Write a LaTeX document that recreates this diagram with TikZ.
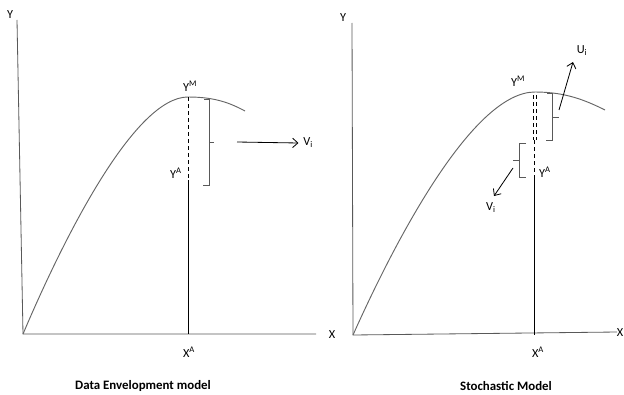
\documentclass[tikz,border=0pt]{standalone}
\usepackage{fontspec}
\setmainfont{Carlito}
\usetikzlibrary{positioning,arrows.meta}

\tikzset{
	axis/.style={draw=black!65, line width=0.7pt},
	curve/.style={draw=black!60, line width=0.8pt},
	drop/.style={draw=black, line width=0.6pt},
	brace/.style={draw=black!65, line width=0.7pt},
	pointer/.style={-{Straight Barb[length=4.5pt,width=8pt]}, line width=0.7pt},
	lab/.style={font=\fontsize{10.5}{12}\selectfont, inner sep=1pt},
	capt/.style={font=\fontsize{11}{13}\selectfont\bfseries}
}

\begin{document}
\begin{tikzpicture}[x=0.03cm, y=-0.03cm]
	\useasboundingbox (0,0) rectangle (624,394);

	% left panel: data envelopment
	\coordinate (lo)  at (23,334);
	\coordinate (ly)  at (17,20);
	\coordinate (lx)  at (316,334);
	\coordinate (lm)  at (188,97);
	\coordinate (la)  at (188,180);
	\coordinate (lf)  at (188,334);
	\draw[axis] (ly) -- (lo) -- (lx);
	\draw[curve] (lo) .. controls (65,235) and (135,97) .. (lm) .. controls (215,97) and (230,103) .. (245,111);
	\draw[drop, dashed] (lm) -- (la);
	\draw[drop] (la) -- (lf);
	\draw[brace] (204,99) -- (209,99) -- (209,185) -- (203,185);
	\draw[brace] (209,142) -- (214,142);
	\coordinate (larr) at (237,142);

	\node[lab] (lyl)  at (10,15)   {Y};
	\node[lab] (lxl)  at (332,335) {X};
	\node[lab] (lym)  at (190,86)  {Y\textsuperscript{M}};
	\node[lab] (lya)  at (176,173) {Y\textsuperscript{A}};
	\node[lab] (lxa)  at (189,352) {X\textsuperscript{A}};
	\node[lab, anchor=west] (lv) at (302,143) {V\textsubscript{i}};
	\draw[pointer] (larr) -- ([xshift=-3pt]lv.west);

	% right panel: stochastic
	\coordinate (ro)  at (353,335);
	\coordinate (ry)  at (352,23);
	\coordinate (rx)  at (617,332);
	\coordinate (rm)  at (535,92);
	\coordinate (rd)  at (534.5,140);
	\coordinate (ra)  at (534.5,178);
	\coordinate (rf)  at (534.5,334.5);
	\draw[axis] (ry) -- (ro) -- (rx);
	\draw[curve] (ro) .. controls (400,230) and (475,92) .. (rm) .. controls (565,92) and (585,100) .. (605,110);
	\draw[drop, dashed] (533,95) -- (533,140);
	\draw[drop, dashed] (536,95) -- (536,140);
	\draw[drop, dashed, line width=1.2pt] (rd) -- (ra);
	\draw[drop] (ra) -- (rf);
	% upper brace (u)
	\draw[brace] (547,93) -- (552,93) -- (552,140) -- (546,140);
	\draw[brace] (552,117) -- (559,117);
	% lower brace (v)
	\draw[brace] (526,143) -- (519,143) -- (519,177) -- (526,177);
	\draw[brace] (519,160) -- (513,160);
	\coordinate (rua) at (559,110);
	\coordinate (rub) at (573,62);
	\coordinate (rva) at (513,168);
	\coordinate (rvb) at (494,196);
	\draw[pointer] (rua) -- (rub);
	\draw[pointer] (rva) -- (rvb);

	\node[lab] (ryl)  at (343,18)  {Y};
	\node[lab] (rxl)  at (620,333) {X};
	\node[lab] (rym)  at (518,81)  {Y\textsuperscript{M}};
	\node[lab] (rya)  at (545,172) {Y\textsuperscript{A}};
	\node[lab] (rxa)  at (538,352) {X\textsuperscript{A}};
	\node[lab] (rul)  at (582,51)  {U\textsubscript{i}};
	\node[lab] (rvl)  at (491,208) {V\textsubscript{i}};

	% captions
	\node[capt] (cl) at (143,386) {Data Envelopment model};
	\node[capt] (cr) at (506,386) {Stochastic Model};
\end{tikzpicture}
\end{document}
